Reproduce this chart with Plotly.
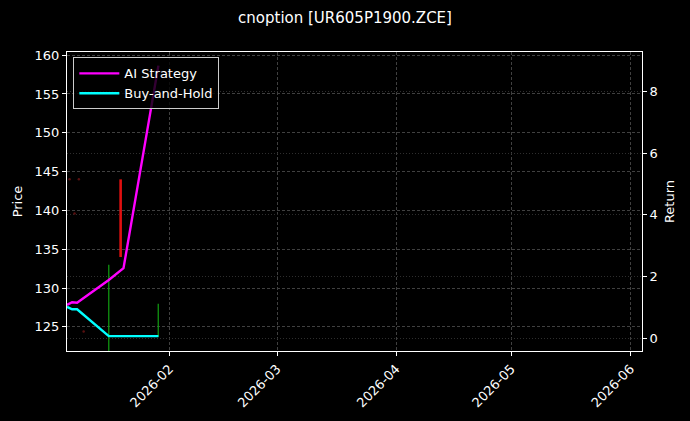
import plotly.graph_objects as go

# candles (price, left axis)
candle_dates = ['2026-01-06 00:00', '2026-01-07 07:00', '2026-01-08 10:00', '2026-01-09 16:00',
                '2026-01-16 05:00', '2026-01-19 07:00', '2026-01-29 02:00']
candle_open = [144.0, 139.6, 144.0, 124.4, 121.0, 144.0, 123.7]
candle_close = [144.0, 139.6, 144.0, 124.4, 133.0, 134.0, 128.0]

# cumulative returns (right axis)
ret_dates = ['2026-01-05 08:00', '2026-01-06 16:00', '2026-01-07 23:00',
             '2026-01-16 05:00', '2026-01-20 01:00', '2026-01-29 03:00']
ai_strategy = [1.08, 1.17, 1.15, 1.89, 2.27, 8.83]
buy_hold = [1.02, 0.94, 0.94, 0.07, 0.07, 0.07]

x_ticks = ['2026-02-01', '2026-03-01', '2026-04-01', '2026-05-01', '2026-06-01']
x_labels = ['2026-02', '2026-03', '2026-04', '2026-05', '2026-06']

FONT = 'DejaVu Sans'

fig = go.Figure()


def candle_segments(dates, o, c, up):
    xs, ys = [], []
    for d, a, b in zip(dates, o, c):
        if (b > a) == up and a != b:
            xs += [d, d, None]
            ys += [a, b, None]
    return xs, ys


# bullish bodies (thin green)
gx, gy = candle_segments(candle_dates, candle_open, candle_close, True)
fig.add_trace(go.Scatter(x=gx, y=gy, mode='lines', line=dict(color='#12a012', width=1.2),
                         showlegend=False, hoverinfo='skip'))
# bearish bodies (red)
rx, ry = candle_segments(candle_dates, candle_open, candle_close, False)
fig.add_trace(go.Scatter(x=rx, y=ry, mode='lines', line=dict(color='#e01010', width=2.6),
                         showlegend=False, hoverinfo='skip'))
# flat candles (barely visible dots)
fx = [d for d, a, b in zip(candle_dates, candle_open, candle_close) if a == b]
fy = [a for a, b in zip(candle_open, candle_close) if a == b]
fig.add_trace(go.Scatter(x=fx, y=fy, mode='markers', marker=dict(color='#5a1010', size=2.5),
                         showlegend=False, hoverinfo='skip'))

fig.add_trace(go.Scatter(x=ret_dates, y=ai_strategy, mode='lines', name='AI Strategy',
                         line=dict(color='#ff00ff', width=2.4), yaxis='y2'))
fig.add_trace(go.Scatter(x=ret_dates, y=buy_hold, mode='lines', name='Buy-and-Hold',
                         line=dict(color='#00ffff', width=2.4), yaxis='y2'))

fig.update_layout(
    width=690, height=421,
    margin=dict(l=67, r=48, t=52, b=70),
    paper_bgcolor='black', plot_bgcolor='black',
    font=dict(family=FONT, size=13, color='white'),
    title=dict(text='cnoption [UR605P1900.ZCE]', x=0.5, xanchor='center', y=0.957, yanchor='middle',
               font=dict(size=15, color='white')),
    showlegend=True,
    legend=dict(x=0.011, y=0.982, xanchor='left', yanchor='top', itemwidth=40,
                bgcolor='rgba(0,0,0,0.8)', bordercolor='#cccccc', borderwidth=1,
                font=dict(size=13, color='white'), tracegroupgap=0),
    xaxis=dict(type='date', range=['2026-01-05 08:00', '2026-06-04 00:00'],
               tickvals=x_ticks, ticktext=x_labels, tickangle=-45,
               showline=True, linecolor='white', linewidth=1.2, mirror=True,
               ticks='outside', ticklen=4, tickcolor='white',
               showgrid=True, gridcolor='#404040', gridwidth=0.6, griddash='3px,2px',
               zeroline=False),
    yaxis=dict(title=dict(text='Price', standoff=8, font=dict(size=13)),
               range=[121.9, 160.4], dtick=5,
               showline=True, linecolor='white', linewidth=1.2, mirror=True,
               ticks='outside', ticklen=4, tickcolor='white',
               showgrid=True, gridcolor='#404040', gridwidth=0.6, griddash='3px,2px',
               zeroline=False),
    yaxis2=dict(title=dict(text='Return', standoff=8, font=dict(size=13)),
                range=[-0.41, 9.27], dtick=2,
                overlaying='y', side='right',
                ticks='outside', ticklen=4, tickcolor='white',
                showgrid=True, gridcolor='#2e2e2e', gridwidth=0.6, griddash='1px,2px',
                zeroline=False),
)

fig.write_html('out.html', config={'displayModeBar': False},
               post_script="document.body.style.margin='0';")
